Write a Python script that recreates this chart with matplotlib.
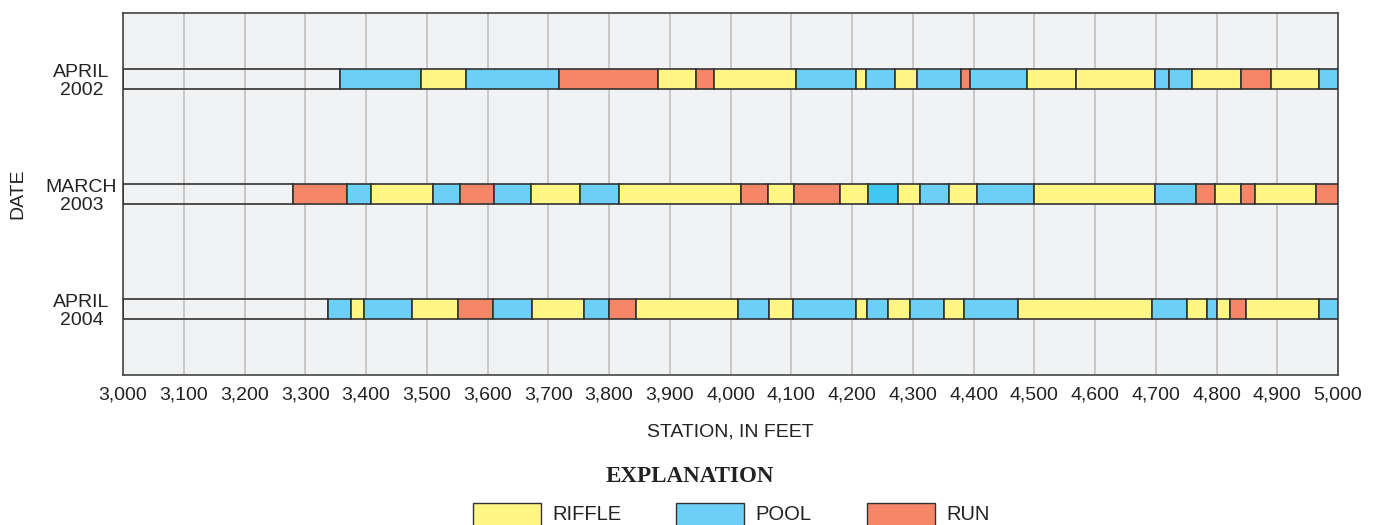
import matplotlib.pyplot as plt
from matplotlib.patches import Rectangle

plt.rcParams['font.family'] = ['Liberation Sans', 'DejaVu Sans']

# stream reach classification by survey date (station in feet)
dates = ['APRIL\n2002', 'MARCH\n2003', 'APRIL\n2004']

bounds_2002 = [3000, 3358, 3490, 3564, 3718, 3880, 3944, 3973, 4108, 4206, 4223, 4270,
               4307, 4379, 4394, 4488, 4568, 4699, 4722, 4759, 4841, 4890, 4969, 5000]
types_2002 = ['none', 'pool', 'riffle', 'pool', 'run', 'riffle', 'run', 'riffle', 'pool',
              'riffle', 'pool', 'riffle', 'pool', 'run', 'pool', 'riffle', 'riffle', 'pool',
              'pool', 'riffle', 'run', 'riffle', 'pool']

bounds_2003 = [3000, 3280, 3368, 3409, 3511, 3555, 3610, 3672, 3752, 3816, 4017, 4061,
               4105, 4181, 4227, 4275, 4312, 4360, 4406, 4500, 4699, 4767, 4798, 4840,
               4864, 4963, 5000]
types_2003 = ['none', 'run', 'pool', 'riffle', 'pool', 'run', 'pool', 'riffle', 'pool',
              'riffle', 'run', 'riffle', 'run', 'riffle', 'pool2', 'riffle', 'pool', 'riffle',
              'pool', 'riffle', 'pool', 'run', 'riffle', 'run', 'riffle', 'run']

bounds_2004 = [3000, 3337, 3376, 3397, 3475, 3552, 3609, 3674, 3759, 3800, 3844, 4012,
               4064, 4103, 4207, 4224, 4260, 4296, 4352, 4384, 4473, 4694, 4751, 4785,
               4800, 4823, 4849, 4969, 5000]
types_2004 = ['none', 'pool', 'riffle', 'pool', 'riffle', 'run', 'pool', 'riffle', 'pool',
              'run', 'riffle', 'pool', 'riffle', 'pool', 'riffle', 'pool', 'riffle', 'pool',
              'riffle', 'pool', 'riffle', 'pool', 'riffle', 'pool', 'riffle', 'run',
              'riffle', 'pool']

colors = {'riffle': '#fff685', 'pool': '#6dcff6', 'pool2': '#42c6f2', 'run': '#f58668',
          'none': 'none'}
edge = '#333333'

rows = [(bounds_2002, types_2002), (bounds_2003, types_2003), (bounds_2004, types_2004)]
ypos = [3, 2, 1]
bar_h = 0.174

fig = plt.figure(figsize=(13.77, 5.25), dpi=100)
ax = fig.add_axes([123 / 1377, 1 - 375 / 525, (1338 - 123) / 1377, (375 - 13) / 525])
ax.set_facecolor('#f1f2f4')

for y, (b, t) in zip(ypos, rows):
    for i in range(len(t)):
        ax.add_patch(Rectangle((b[i], y - bar_h / 2), b[i + 1] - b[i], bar_h,
                               facecolor=colors[t[i]], edgecolor=edge, lw=1.2, zorder=3))

ax.set_xlim(3000, 5000)
ax.set_ylim(0.426, 3.574)
xt = list(range(3000, 5001, 100))
ax.set_xticks(xt)
ax.set_xticklabels(['{:,}'.format(v) for v in xt], fontsize=14, color='#222222')
ax.set_yticks(ypos)
ax.set_yticklabels(dates, fontsize=14, color='#222222', linespacing=1.1)
for lab in ax.get_yticklabels():
    lab.set_horizontalalignment('center')
ax.tick_params(axis='y', length=0, pad=30)
ax.tick_params(axis='x', length=0, pad=8)
ax.grid(axis='x', color='#c4c4c4', lw=1.3, zorder=1)
ax.set_axisbelow(True)
for s in ax.spines.values():
    s.set_color('#444444')
    s.set_linewidth(1.2)

fig.text(18 / 1377, 1 - 194 / 525, 'DATE', rotation=90, ha='center', va='center',
         fontsize=14, color='#222222')
fig.text((123 + 1338) / 2 / 1377, 1 - 432 / 525, 'STATION, IN FEET', ha='center',
         va='center', fontsize=14, color='#222222')
fig.text(690 / 1377, 1 - 476 / 525, 'EXPLANATION', ha='center', va='center',
         fontsize=16.6, fontweight='bold', family=['Liberation Serif', 'DejaVu Serif'],
         color='#222222')

legend_items = [('RIFFLE', 'riffle', 473), ('POOL', 'pool', 676), ('RUN', 'run', 867)]
for name, key, x0 in legend_items:
    fig.add_artist(Rectangle((x0 / 1377, 1 - 526 / 525), 68 / 1377, 23 / 525,
                             transform=fig.transFigure, facecolor=colors[key],
                             edgecolor=edge, lw=1.0))
    fig.text((x0 + 79) / 1377, 1 - 515 / 525, name, ha='left', va='center',
             fontsize=14.5, color='#222222')

fig.savefig('out.png', dpi=100)
